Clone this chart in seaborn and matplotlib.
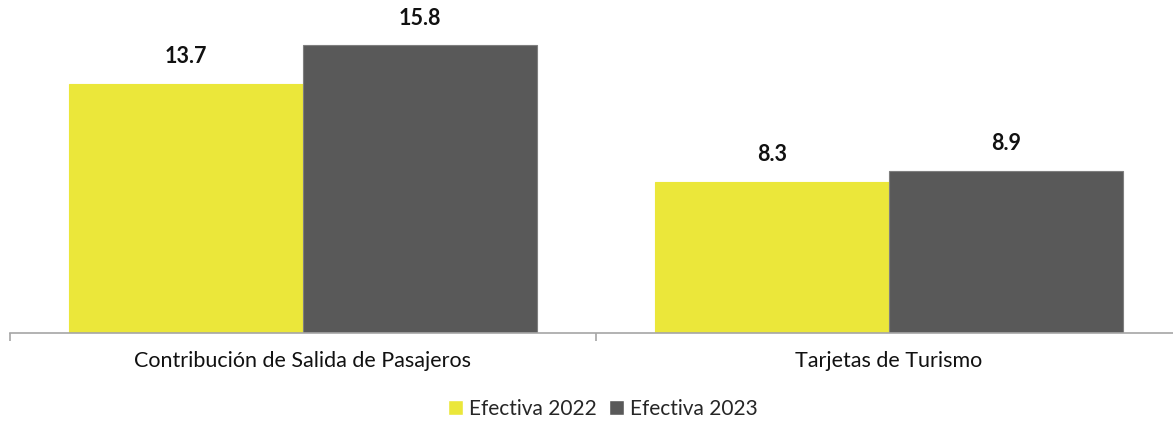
import matplotlib
matplotlib.use("Agg")
import matplotlib.pyplot as plt
import seaborn as sns
import pandas as pd

categories = ["Contribución de Salida de Pasajeros", "Tarjetas de Turismo"]
series_names = ["Efectiva 2022", "Efectiva 2023"]
values_2022 = [13.7, 8.3]
values_2023 = [15.8, 8.9]
colors = ["#EBE73A", "#595959"]

df = pd.DataFrame({
    "cat": categories * 2,
    "serie": [series_names[0]] * 2 + [series_names[1]] * 2,
    "val": values_2022 + values_2023,
})

sns.set_theme(style="white")
plt.rcParams["font.family"] = ["Lato", "DejaVu Sans"]

W, H = 1173, 430
fig = plt.figure(figsize=(W / 100, H / 100), dpi=100)
ax = fig.add_axes([10 / W, (H - 333) / H, 1172 / W, 327.6 / H])

sns.barplot(data=df, x="cat", y="val", hue="serie", palette=colors,
            width=0.8, ax=ax, saturation=1, legend=True)

for cont, col in zip(ax.containers, colors):
    for bar in cont:
        bar.set_edgecolor("#7f7f7f" if col == "#595959" else col)
        bar.set_linewidth(0.8)
    ax.bar_label(cont, fmt="%.1f", padding=12, fontsize=15.5, fontweight="bold", color="#111111")

ax.set_xlim(-0.5, 1.5)
ax.set_ylim(0, 18)
ax.set_yticks([])
ax.set_xlabel("")
ax.set_ylabel("")
for s in ["top", "right", "left"]:
    ax.spines[s].set_visible(False)
ax.spines["bottom"].set_color("#a6a6a6")
ax.spines["bottom"].set_linewidth(1.2)

ax.set_xticks([0, 1])
ax.set_xticklabels(categories, fontsize=15.5, color="#111111")
ax.tick_params(axis="x", which="major", length=0, pad=13)
ax.set_xticks([-0.5, 0.5, 1.5], minor=True)
ax.tick_params(axis="x", which="minor", length=6, width=1.2, color="#a6a6a6", bottom=True)

handles, labels = ax.get_legend_handles_labels()
ax.legend(handles, labels, loc="center", bbox_to_anchor=(603 / W, 1 - 409 / H),
          bbox_transform=fig.transFigure, ncol=2, frameon=False, fontsize=15,
          handlelength=0.7, handleheight=0.7, handletextpad=0.3, columnspacing=0.6)

fig.savefig("out.png", dpi=100)
